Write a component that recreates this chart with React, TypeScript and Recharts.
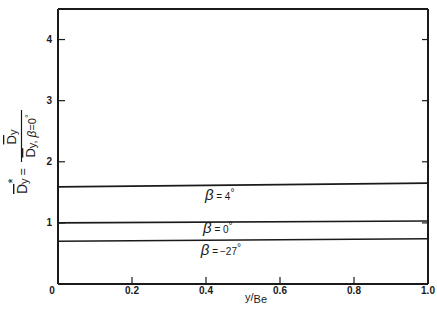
import React from 'react';
import { LineChart, Line, XAxis, YAxis, ReferenceDot } from 'recharts';

const xEnds = [0, 1];
const beta4 = [1.59, 1.65];
const beta0 = [1.0, 1.03];
const betaM27 = [0.7, 0.74];
const xTicks = [0, 0.2, 0.4, 0.6, 0.8, 1.0];
const xTickLabels = ['0', '0.2', '0.4', '0.6', '0.8', '1.0'];
const yTicks = [1, 2, 3, 4];
const yTickLabels = ['1', '2', '3', '4'];
const labels = [
  { x: 0.397, y: 1.457, main: ' = 4' },
  { x: 0.392, y: 0.917, main: ' = 0' },
  { x: 0.386, y: 0.556, main: ' =\u2009\u221227' },
];

const mk = (vals: number[]) => xEnds.map((x, i) => ({ x, v: vals[i] }));

const FONT = '"Liberation Sans", Arial, sans-serif';
const INK = '#1a1a1a';

const LeftTick = (p: any) => {
  const i = yTicks.indexOf(p.payload.value);
  const ax = p.x + 1;
  return (
    <g>
      <line x1={ax} x2={ax + 6} y1={p.y} y2={p.y} stroke={INK} strokeWidth={1.2} />
      <text x={ax - 7} y={p.y} textAnchor="end" dominantBaseline="central" fontFamily={FONT} fontSize={10} fontWeight="bold" fill={INK}>
        {yTickLabels[i]}
      </text>
    </g>
  );
};

const RightTick = (p: any) => (
  <line x1={p.x} x2={p.x - 6} y1={p.y} y2={p.y} stroke={INK} strokeWidth={1.2} />
);

const BottomTick = (p: any) => {
  const i = xTicks.indexOf(p.payload.value);
  const isZero = i === 0;
  const ay = p.y - 1;
  return (
    <g>
      {!isZero && <line x1={p.x} x2={p.x} y1={ay} y2={ay - 6} stroke={INK} strokeWidth={1.2} />}
      <text x={isZero ? p.x - 6 : p.x} y={ay + 7} textAnchor="middle" dominantBaseline="central" fontFamily={FONT} fontSize={10} fontWeight="bold" fill={INK}>
        {xTickLabels[i]}
      </text>
    </g>
  );
};

const BetaLabel = (main: string) => (props: any) => {
  const vb = props.viewBox || {};
  const x = vb.x + (vb.width || 0) / 2;
  const y = vb.y + (vb.height || 0) / 2;
  return (
    <text x={x} y={y + 5} fontFamily={FONT} fill={INK}>
      <tspan fontSize={15} fontStyle="italic">β</tspan>
      <tspan fontSize={10}>{main}</tspan>
      <tspan fontSize={10} dy={-4}>°</tspan>
    </text>
  );
};

const YLabel = () => (
  <g transform="translate(0,150) rotate(-90)" fontFamily={FONT} fill={INK}>
    <text x={-44} y={27} fontSize={14}>
      <tspan style={{ textDecoration: 'overline' }}>D</tspan>
      <tspan fontSize={11} dy={1}>y</tspan>
      <tspan fontSize={13} dx={-5} dy={-11}>*</tspan>
      <tspan fontSize={12} dx={3} dy={10}>=</tspan>
    </text>
    <text x={13} y={16} fontSize={13} textAnchor="middle">
      <tspan style={{ textDecoration: 'overline' }}>D</tspan>
      <tspan fontSize={11} dy={1}>y</tspan>
    </text>
    <line x1={-12} x2={40} y1={21.5} y2={21.5} stroke={INK} strokeWidth={1.2} />
    <text x={14} y={35} fontSize={13} textAnchor="middle">
      <tspan style={{ textDecoration: 'overline' }}>D</tspan>
      <tspan fontSize={11} dy={1}>y, </tspan>
      <tspan fontSize={12} fontStyle="italic">β</tspan>
      <tspan fontSize={11}>=0</tspan>
      <tspan fontSize={9} dy={-4}>°</tspan>
    </text>
  </g>
);

export default function App() {
  return (
    <div style={{ position: 'absolute', left: 0, top: 0, width: 437, height: 315, background: '#fff' }}>
      <LineChart width={437} height={315} margin={{ top: 8, right: 8, bottom: 30, left: 57 }}>
        <XAxis
          xAxisId="b"
          type="number"
          dataKey="x"
          domain={[0, 1]}
          ticks={xTicks}
          height={1}
          tickSize={0}
          tickMargin={0}
          tickLine={false}
          axisLine={{ stroke: INK, strokeWidth: 2 }}
          tick={<BottomTick />}
          interval={0}
          allowDataOverflow
        />
        <XAxis
          xAxisId="t"
          orientation="top"
          type="number"
          dataKey="x"
          domain={[0, 1]}
          height={1}
          tick={false}
          tickLine={false}
          axisLine={{ stroke: INK, strokeWidth: 2 }}
        />
        <YAxis
          yAxisId="l"
          type="number"
          domain={[0, 4.5]}
          ticks={yTicks}
          width={1}
          tickSize={0}
          tickMargin={0}
          tickLine={false}
          axisLine={{ stroke: INK, strokeWidth: 2 }}
          tick={<LeftTick />}
          interval={0}
          allowDataOverflow
          label={<YLabel />}
        />
        <YAxis
          yAxisId="r"
          orientation="right"
          type="number"
          domain={[0, 4.5]}
          ticks={yTicks}
          width={1}
          tickSize={0}
          tickMargin={0}
          tickLine={false}
          axisLine={{ stroke: INK, strokeWidth: 2 }}
          tick={<RightTick />}
          interval={0}
          allowDataOverflow
        />
        <Line xAxisId="b" yAxisId="l" data={mk(beta4)} dataKey="v" stroke={INK} strokeWidth={1.6} dot={false} isAnimationActive={false} />
        <Line xAxisId="b" yAxisId="l" data={mk(beta0)} dataKey="v" stroke={INK} strokeWidth={1.6} dot={false} isAnimationActive={false} />
        <Line xAxisId="b" yAxisId="l" data={mk(betaM27)} dataKey="v" stroke={INK} strokeWidth={1.6} dot={false} isAnimationActive={false} />
        {labels.map((l, i) => (
          <ReferenceDot key={i} xAxisId="b" yAxisId="l" x={l.x} y={l.y} r={0} fill="none" stroke="none" label={BetaLabel(l.main)} />
        ))}
        <text x={256} y={301} textAnchor="middle" fontFamily={FONT} fontSize={11} fill={INK}>
          <tspan>y/</tspan>
          <tspan dy={2}>Be</tspan>
        </text>
      </LineChart>
    </div>
  );
}
